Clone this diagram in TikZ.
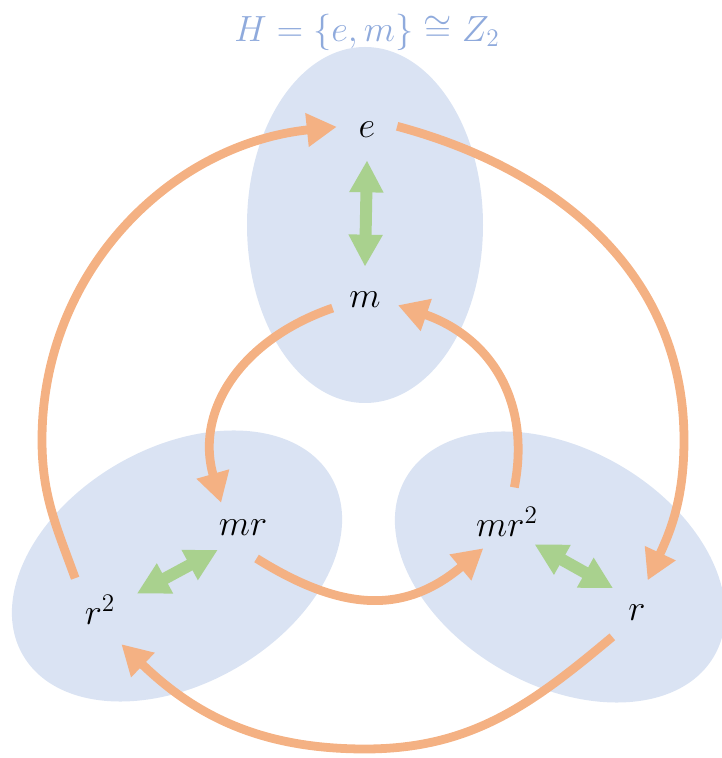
\documentclass[tikz,border=0pt]{standalone}
\usepackage{amsmath,amssymb}
\usepackage{tikz}
\usetikzlibrary{arrows.meta}
\usepackage{xcolor}
\definecolor{cosetfill}{HTML}{DAE3F3}
\definecolor{titleblue}{HTML}{8FAADC}
\definecolor{multorange}{HTML}{F4B183}
\definecolor{swapgreen}{HTML}{A9D18E}

\begin{document}
\begin{tikzpicture}[x=0.02cm,y=0.02cm,
  elem/.style={circle,inner sep=0pt,minimum size=1.36cm,font=\fontsize{20}{24}\selectfont},
  mult/.style={multorange,line width=5pt,-{Triangle[length=6mm,width=6.4mm]}},
  swap/.style={swapgreen,line width=6.8pt,{Triangle[length=6.4mm,width=6.4mm]}-{Triangle[length=6.4mm,width=6.4mm]}}]
\useasboundingbox (0,0) rectangle (722,758);
\fill[cosetfill] (365,533) ellipse [x radius=118,y radius=178];
\fill[cosetfill,rotate around={30:(177,192)}] (177,192) ellipse [x radius=178,y radius=118];
\fill[cosetfill,rotate around={-30:(560,191)}] (560,191) ellipse [x radius=178,y radius=118];
\node[text=titleblue,font=\fontsize{20}{24}\selectfont] (title) at (367,726) {$H=\{e,m\}\cong Z_2$};
\node[elem,minimum size=1.2cm] (e) at (367,628) {$e$};
\node[elem,minimum size=1.32cm] (m) at (365,458) {$m$};
\node[elem,minimum size=1.32cm] (mr) at (243,230) {$mr$};
\node[elem,minimum size=1.4cm] (mr2) at (507,236) {$mr^2$};
\node[elem,minimum size=1.6cm] (r2) at (100,148) {$r^2$};
\node[elem] (r) at (637,145) {$r$};
\coordinate (westmost) at (42,318);
\coordinate (eastmost) at (684,318);
\coordinate (southmost) at (365,9);
\draw[mult] (r2.128) to[out=110,in=-90] (westmost) to[out=90,in=186] (e.174);
\draw[mult] (e.7) to[out=-15,in=90] (eastmost) to[out=-90,in=65] (r.72);
\draw[mult] (r.224) to[out=220,in=0] (southmost) to[out=180,in=-44] (r2.-58);
\draw[mult] (m.194) to[out=199,in=106,looseness=1.1] (mr.131);
\draw[mult] (mr.-66) to[out=-32,in=220,looseness=1.15] (mr2.228);
\draw[mult] (mr2.78) to[out=79,in=-19,looseness=1.1] (m.-9);
\draw[swap] (e.south) -- (m.north);
\draw[swap] (r2.24) -- (mr.221);
\draw[swap] (mr2.-39) -- (r.134);
\end{tikzpicture}
\end{document}
